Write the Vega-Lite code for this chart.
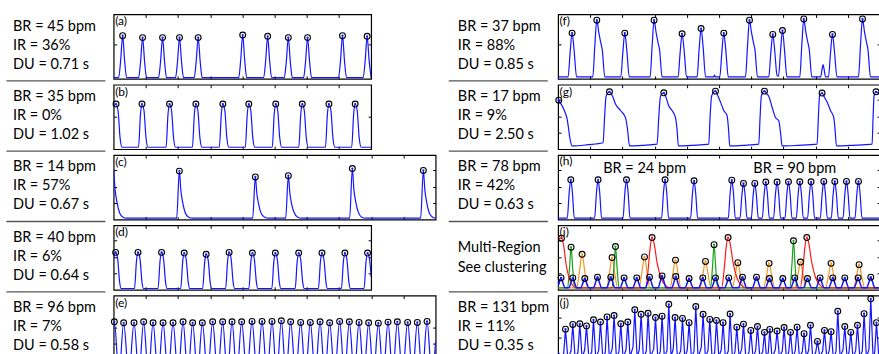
{
"$schema":"https://vega.github.io/schema/vega-lite/v6.json",
"padding":{"left":4.65,"top":12.4,"right":0,"bottom":0},
"background":"white",
"config":{
 "view":{"stroke":"black","strokeWidth":1.2},
 "axis":{"labels":false,"domain":false,"grid":false,"ticks":true,"tickSize":-3,"tickColor":"black","tickWidth":1},
 "text":{"font":"Lato","color":"black"},
 "line":{"color":"#1414ff","strokeWidth":1.2},
 "point":{"opacity":1}
},
"datasets":{
"lab":[
{"r":"a","n":0,"s":"BR = 45 bpm"},{"r":"a","n":1,"s":"IR = 36%"},{"r":"a","n":2,"s":"DU = 0.71 s"},
{"r":"b","n":0,"s":"BR = 35 bpm"},{"r":"b","n":1,"s":"IR = 0%"},{"r":"b","n":2,"s":"DU = 1.02 s"},
{"r":"c","n":0,"s":"BR = 14 bpm"},{"r":"c","n":1,"s":"IR = 57%"},{"r":"c","n":2,"s":"DU = 0.67 s"},
{"r":"d","n":0,"s":"BR = 40 bpm"},{"r":"d","n":1,"s":"IR = 6%"},{"r":"d","n":2,"s":"DU = 0.64 s"},
{"r":"e","n":0,"s":"BR = 96 bpm"},{"r":"e","n":1,"s":"IR = 7%"},{"r":"e","n":2,"s":"DU = 0.58 s"},
{"r":"f","n":0,"s":"BR = 37 bpm"},{"r":"f","n":1,"s":"IR = 88%"},{"r":"f","n":2,"s":"DU = 0.85 s"},
{"r":"g","n":0,"s":"BR = 17 bpm"},{"r":"g","n":1,"s":"IR = 9%"},{"r":"g","n":2,"s":"DU = 2.50 s"},
{"r":"h","n":0,"s":"BR = 78 bpm"},{"r":"h","n":1,"s":"IR = 42%"},{"r":"h","n":2,"s":"DU = 0.63 s"},
{"r":"i","n":0,"s":"Multi-Region"},{"r":"i","n":1,"s":"See clustering"},
{"r":"j","n":0,"s":"BR = 131 bpm"},{"r":"j","n":1,"s":"IR = 11%"},{"r":"j","n":2,"s":"DU = 0.35 s"}
],
"ann":[{"t":86.5,"v":0.78,"s":"BR = 24 bpm"},{"t":236.7,"v":0.78,"s":"BR = 90 bpm"}],
"a":[
{"t":0,"v":0.02},
{"t":5,"v":0.02},{"t":7,"v":0.28},{"t":9,"v":0.67,"k":1},{"t":11,"v":0.28},{"t":13,"v":0.02},
{"t":25,"v":0.02},{"t":27,"v":0.27},{"t":29,"v":0.64,"k":1},{"t":31,"v":0.27},{"t":33,"v":0.02},
{"t":45,"v":0.02},{"t":47,"v":0.27},{"t":49,"v":0.64,"k":1},{"t":51,"v":0.27},{"t":53,"v":0.02},
{"t":62,"v":0.02},{"t":64,"v":0.27},{"t":66,"v":0.64,"k":1},{"t":68,"v":0.27},{"t":70,"v":0.02},
{"t":80.7,"v":0.02},{"t":82.7,"v":0.27},{"t":84.7,"v":0.64,"k":1},{"t":86.7,"v":0.27},{"t":88.7,"v":0.02},
{"t":125.3,"v":0.02},{"t":127.3,"v":0.29},{"t":129.3,"v":0.68,"k":1},{"t":131.3,"v":0.29},{"t":133.3,"v":0.02},
{"t":150.3,"v":0.02},{"t":152.3,"v":0.28},{"t":154.3,"v":0.66,"k":1},{"t":156.3,"v":0.28},{"t":158.3,"v":0.02},
{"t":171,"v":0.02},{"t":173,"v":0.27},{"t":175,"v":0.64,"k":1},{"t":177,"v":0.27},{"t":179,"v":0.02},
{"t":190.3,"v":0.02},{"t":192.3,"v":0.27},{"t":194.3,"v":0.64,"k":1},{"t":196.3,"v":0.27},{"t":198.3,"v":0.02},
{"t":225.3,"v":0.02},{"t":227.3,"v":0.28},{"t":229.3,"v":0.67,"k":1},{"t":231.3,"v":0.28},{"t":233.3,"v":0.02},
{"t":250,"v":0.02},{"t":252,"v":0.28},{"t":254,"v":0.66,"k":1},{"t":256,"v":0.28},{"t":258,"v":0.02}
],
"b":[
{"t":0,"v":0.66},{"t":2.4,"v":0.70,"k":1},{"t":4.4,"v":0.6},{"t":6.4,"v":0.18},{"t":8.4,"v":0.03},
{"t":24.9,"v":0.03},{"t":26.9,"v":0.55},{"t":28.4,"v":0.70,"k":1},{"t":30.4,"v":0.6},{"t":32.4,"v":0.18},{"t":34.4,"v":0.03},
{"t":52.5,"v":0.03},{"t":54.5,"v":0.55},{"t":56,"v":0.70,"k":1},{"t":58,"v":0.6},{"t":60,"v":0.18},{"t":62,"v":0.03},
{"t":78.9,"v":0.03},{"t":80.9,"v":0.55},{"t":82.4,"v":0.70,"k":1},{"t":84.4,"v":0.6},{"t":86.4,"v":0.18},{"t":88.4,"v":0.03},
{"t":105.9,"v":0.03},{"t":107.9,"v":0.55},{"t":109.4,"v":0.70,"k":1},{"t":111.4,"v":0.6},{"t":113.4,"v":0.18},{"t":115.4,"v":0.03},
{"t":131.9,"v":0.03},{"t":133.9,"v":0.55},{"t":135.4,"v":0.70,"k":1},{"t":137.4,"v":0.6},{"t":139.4,"v":0.18},{"t":141.4,"v":0.03},
{"t":158.9,"v":0.03},{"t":160.9,"v":0.55},{"t":162.4,"v":0.70,"k":1},{"t":164.4,"v":0.6},{"t":166.4,"v":0.18},{"t":168.4,"v":0.03},
{"t":185.5,"v":0.03},{"t":187.5,"v":0.55},{"t":189,"v":0.70,"k":1},{"t":191,"v":0.6},{"t":193,"v":0.18},{"t":195,"v":0.03},
{"t":212.2,"v":0.03},{"t":214.2,"v":0.55},{"t":215.7,"v":0.70,"k":1},{"t":217.7,"v":0.6},{"t":219.7,"v":0.18},{"t":221.7,"v":0.03},
{"t":238.5,"v":0.03},{"t":240.5,"v":0.55},{"t":242,"v":0.70,"k":1},{"t":244,"v":0.6},{"t":246,"v":0.18},{"t":248,"v":0.03},
{"t":258,"v":0.03}
],
"c":[
{"t":0,"v":0.76},{"t":1.5,"v":0.46},{"t":3.3,"v":0.27},{"t":6,"v":0.1},{"t":9,"v":0.04},{"t":13,"v":0.02},
{"t":63,"v":0.02},{"t":65.7,"v":0.75,"k":1},{"t":67.2,"v":0.45},{"t":69,"v":0.27},{"t":71.7,"v":0.1},{"t":74.7,"v":0.04},{"t":78.7,"v":0.02},
{"t":139,"v":0.02},{"t":141.7,"v":0.66,"k":1},{"t":143.2,"v":0.40},{"t":145,"v":0.24},{"t":147.7,"v":0.09},{"t":150.7,"v":0.04},{"t":154.7,"v":0.02},
{"t":172,"v":0.02},{"t":174.7,"v":0.68,"k":1},{"t":176.2,"v":0.41},{"t":178,"v":0.24},{"t":180.7,"v":0.1},{"t":183.7,"v":0.04},{"t":187.7,"v":0.02},
{"t":236,"v":0.02},{"t":238.7,"v":0.79,"k":1},{"t":240.2,"v":0.47},{"t":242,"v":0.28},{"t":244.7,"v":0.11},{"t":247.7,"v":0.04},{"t":251.7,"v":0.02},
{"t":307,"v":0.02},{"t":309.7,"v":0.76,"k":1},{"t":311.2,"v":0.46},{"t":313,"v":0.27},{"t":315.7,"v":0.1},{"t":318.7,"v":0.04},{"t":322,"v":0.02}
],
"d":[
{"t":0,"v":0.5},{"t":2,"v":0.58,"k":1},{"t":4,"v":0.48},{"t":6,"v":0.12},{"t":7.5,"v":0.02},
{"t":20.9,"v":0.02},{"t":22.9,"v":0.45},{"t":24.4,"v":0.58,"k":1},{"t":26.4,"v":0.48},{"t":28.4,"v":0.12},{"t":29.9,"v":0.02},
{"t":44.5,"v":0.02},{"t":46.5,"v":0.45},{"t":48,"v":0.58,"k":1},{"t":50,"v":0.48},{"t":52,"v":0.12},{"t":53.5,"v":0.02},
{"t":67.2,"v":0.02},{"t":69.2,"v":0.44},{"t":70.7,"v":0.57,"k":1},{"t":72.7,"v":0.47},{"t":74.7,"v":0.12},{"t":76.2,"v":0.02},
{"t":89.2,"v":0.02},{"t":91.2,"v":0.43},{"t":92.7,"v":0.55,"k":1},{"t":94.7,"v":0.46},{"t":96.7,"v":0.12},{"t":98.2,"v":0.02},
{"t":112.2,"v":0.02},{"t":114.2,"v":0.45},{"t":115.7,"v":0.58,"k":1},{"t":117.7,"v":0.48},{"t":119.7,"v":0.12},{"t":121.2,"v":0.02},
{"t":135.5,"v":0.02},{"t":137.5,"v":0.44},{"t":139,"v":0.57,"k":1},{"t":141,"v":0.47},{"t":143,"v":0.12},{"t":144.5,"v":0.02},
{"t":158.5,"v":0.02},{"t":160.5,"v":0.44},{"t":162,"v":0.57,"k":1},{"t":164,"v":0.47},{"t":166,"v":0.12},{"t":167.5,"v":0.02},
{"t":181.9,"v":0.02},{"t":183.9,"v":0.44},{"t":185.4,"v":0.57,"k":1},{"t":187.4,"v":0.47},{"t":189.4,"v":0.12},{"t":190.9,"v":0.02},
{"t":205.2,"v":0.02},{"t":207.2,"v":0.44},{"t":208.7,"v":0.57,"k":1},{"t":210.7,"v":0.47},{"t":212.7,"v":0.12},{"t":214.2,"v":0.02},
{"t":228.2,"v":0.02},{"t":230.2,"v":0.44},{"t":231.7,"v":0.57,"k":1},{"t":233.7,"v":0.47},{"t":235.7,"v":0.12},{"t":237.2,"v":0.02},
{"t":250.9,"v":0.02},{"t":252.9,"v":0.44},{"t":254.4,"v":0.57,"k":1},{"t":256.4,"v":0.47},{"t":258,"v":0.2}
],
"e":[
{"t":0,"v":0.58},{"t":0.7,"v":0.594,"k":1},{"t":5.35,"v":-0.25},{"t":10,"v":0.579,"k":1},{"t":15.2,"v":-0.25},{"t":20.4,"v":0.579,"k":1},{"t":25.2,"v":-0.25},
{"t":30,"v":0.594,"k":1},{"t":34.7,"v":-0.25},{"t":39.4,"v":0.579,"k":1},{"t":44.4,"v":-0.25},{"t":49.4,"v":0.579,"k":1},{"t":54.4,"v":-0.25},
{"t":59.4,"v":0.579,"k":1},{"t":64.4,"v":-0.25},{"t":69.4,"v":0.594,"k":1},{"t":74.2,"v":-0.25},{"t":79,"v":0.579,"k":1},{"t":83.85,"v":-0.25},
{"t":88.7,"v":0.579,"k":1},{"t":93.85,"v":-0.25},{"t":99,"v":0.594,"k":1},{"t":104,"v":-0.25},{"t":109,"v":0.594,"k":1},{"t":113.7,"v":-0.25},
{"t":118.4,"v":0.594,"k":1},{"t":123.2,"v":-0.25},{"t":128,"v":0.594,"k":1},{"t":133.2,"v":-0.25},{"t":138.4,"v":0.60,"k":1},{"t":143.4,"v":-0.25},
{"t":148.4,"v":0.60,"k":1},{"t":153.4,"v":-0.25},{"t":158.4,"v":0.60,"k":1},{"t":163,"v":-0.25},{"t":167.7,"v":0.61,"k":1},{"t":172.35,"v":-0.25},
{"t":177,"v":0.594,"k":1},{"t":182,"v":-0.25},{"t":187,"v":0.584,"k":1},{"t":191.85,"v":-0.25},{"t":196.7,"v":0.584,"k":1},{"t":201.55,"v":-0.25},
{"t":206.4,"v":0.594,"k":1},{"t":211.2,"v":-0.25},{"t":216,"v":0.579,"k":1},{"t":221,"v":-0.25},{"t":226,"v":0.60,"k":1},{"t":230.85,"v":-0.25},
{"t":235.7,"v":0.594,"k":1},{"t":240.55,"v":-0.25},{"t":245.4,"v":0.584,"k":1},{"t":250.2,"v":-0.25},{"t":255,"v":0.579,"k":1},{"t":259.85,"v":-0.25},
{"t":264.7,"v":0.573,"k":1},{"t":269.55,"v":-0.25},{"t":274.4,"v":0.589,"k":1},{"t":279.05,"v":-0.25},{"t":283.7,"v":0.594,"k":1},{"t":288.85,"v":-0.25},
{"t":294,"v":0.584,"k":1},{"t":298.85,"v":-0.25},{"t":303.7,"v":0.584,"k":1},{"t":308.55,"v":-0.25},{"t":313.4,"v":0.60,"k":1},{"t":318.2,"v":-0.25},
{"t":322,"v":0.3}
],
"f":[
{"t":0,"v":0.03},
{"t":10,"v":0.03},{"t":12,"v":0.4},{"t":14,"v":0.71,"k":1},{"t":16,"v":0.45},{"t":18.5,"v":0.03},
{"t":34.7,"v":0.03},{"t":36.7,"v":0.5},{"t":38.7,"v":0.91,"k":1},{"t":40.7,"v":0.72},{"t":42.7,"v":0.56},{"t":44.2,"v":0.45},{"t":46.7,"v":0.03},
{"t":62.7,"v":0.03},{"t":64.7,"v":0.4},{"t":66.7,"v":0.71,"k":1},{"t":68.7,"v":0.45},{"t":71.2,"v":0.03},
{"t":92,"v":0.03},{"t":94,"v":0.5},{"t":96,"v":0.91,"k":1},{"t":98,"v":0.72},{"t":100,"v":0.56},{"t":101.5,"v":0.45},{"t":104,"v":0.03},
{"t":120,"v":0.03},{"t":122,"v":0.4},{"t":124,"v":0.70,"k":1},{"t":126,"v":0.45},{"t":128.5,"v":0.03},
{"t":139,"v":0.03},{"t":141,"v":0.45},{"t":143,"v":0.78,"k":1},{"t":145,"v":0.5},{"t":147.5,"v":0.03},
{"t":155.5,"v":0.03},{"t":156.4,"v":0.06},{"t":157.3,"v":0.03},
{"t":161.7,"v":0.03},{"t":163.7,"v":0.4},{"t":165.7,"v":0.71,"k":1},{"t":167.7,"v":0.45},{"t":170.2,"v":0.03},
{"t":187.4,"v":0.03},{"t":189.4,"v":0.5},{"t":191.4,"v":0.91,"k":1},{"t":193.4,"v":0.72},{"t":195.4,"v":0.56},{"t":196.9,"v":0.45},{"t":199.4,"v":0.03},
{"t":210.7,"v":0.03},{"t":212.7,"v":0.4},{"t":214.7,"v":0.69,"k":1},{"t":216.7,"v":0.42},{"t":219,"v":0.05},{"t":220.4,"v":0.04},{"t":222.4,"v":0.42},{"t":224.4,"v":0.75,"k":1},{"t":226.4,"v":0.45},{"t":228.9,"v":0.03},
{"t":241.7,"v":0.03},{"t":243.7,"v":0.52},{"t":245.7,"v":0.93,"k":1},{"t":247.7,"v":0.73},{"t":249.7,"v":0.57},{"t":251.2,"v":0.45},{"t":253.7,"v":0.03},
{"t":262.5,"v":0.03},{"t":264,"v":0.15},{"t":265,"v":0.22},{"t":266,"v":0.15},{"t":267.5,"v":0.03},
{"t":270.4,"v":0.03},{"t":272.4,"v":0.4},{"t":274.4,"v":0.69,"k":1},{"t":276.4,"v":0.42},{"t":278.9,"v":0.03},
{"t":300.4,"v":0.03},{"t":302.4,"v":0.52},{"t":304.4,"v":0.93,"k":1},{"t":306.4,"v":0.73},{"t":308.4,"v":0.57},{"t":309.9,"v":0.45},{"t":312.4,"v":0.03},
{"t":322,"v":0.03}
],
"g":[
{"t":0,"v":0.78},{"t":0.7,"v":0.76,"k":1},{"t":5.7,"v":0.62},{"t":9,"v":0.47},{"t":12.3,"v":0.13},{"t":14,"v":0.05},
{"t":30,"v":0.07},{"t":45,"v":0.10},{"t":46.5,"v":0.5},{"t":48,"v":0.82},{"t":51.4,"v":0.89,"k":1},{"t":54.5,"v":0.82},{"t":57.4,"v":0.70},{"t":62.4,"v":0.60},{"t":67.4,"v":0.49},{"t":69.5,"v":0.3},{"t":71.4,"v":0.05},
{"t":85,"v":0.06},{"t":99,"v":0.08},{"t":100.7,"v":0.5},{"t":102.4,"v":0.82},{"t":105.7,"v":0.875,"k":1},{"t":108,"v":0.8},{"t":110.7,"v":0.67},{"t":114,"v":0.60},{"t":117.4,"v":0.49},{"t":119,"v":0.3},{"t":120.3,"v":0.05},
{"t":135,"v":0.06},{"t":150.7,"v":0.08},{"t":152,"v":0.5},{"t":153.6,"v":0.83},{"t":157.4,"v":0.90,"k":1},{"t":160,"v":0.82},{"t":162.4,"v":0.73},{"t":165.7,"v":0.6},{"t":169,"v":0.52},{"t":170.5,"v":0.3},{"t":171.7,"v":0.05},
{"t":186,"v":0.06},{"t":200.7,"v":0.08},{"t":202,"v":0.5},{"t":203.3,"v":0.83},{"t":206.4,"v":0.90,"k":1},{"t":208.5,"v":0.86},{"t":210.7,"v":0.82},{"t":214,"v":0.65},{"t":217.4,"v":0.49},{"t":220.7,"v":0.44},{"t":222.5,"v":0.25},{"t":224,"v":0.05},
{"t":240,"v":0.06},{"t":259,"v":0.08},{"t":260.3,"v":0.5},{"t":261.5,"v":0.83},{"t":264,"v":0.87,"k":1},{"t":266.5,"v":0.8},{"t":269,"v":0.73},{"t":272.4,"v":0.6},{"t":275.7,"v":0.49},{"t":277,"v":0.3},{"t":278.4,"v":0.05},
{"t":295,"v":0.06},{"t":314,"v":0.08},{"t":315,"v":0.5},{"t":316,"v":0.83},{"t":318,"v":0.89,"k":1},{"t":320,"v":0.87},{"t":322,"v":0.85}
],
"h":[
{"t":0,"v":0.02},
{"t":9.2,"v":0.02},{"t":11,"v":0.4},{"t":12.7,"v":0.615,"k":1},{"t":14.4,"v":0.4},{"t":16.2,"v":0.02},
{"t":36.5,"v":0.02},{"t":38.3,"v":0.4},{"t":40,"v":0.615,"k":1},{"t":41.7,"v":0.4},{"t":43.5,"v":0.02},
{"t":64.9,"v":0.02},{"t":66.7,"v":0.4},{"t":68.4,"v":0.615,"k":1},{"t":70.1,"v":0.4},{"t":71.9,"v":0.02},
{"t":103.5,"v":0.02},{"t":105.3,"v":0.4},{"t":107,"v":0.615,"k":1},{"t":108.7,"v":0.4},{"t":110.5,"v":0.02},
{"t":132.5,"v":0.02},{"t":134.3,"v":0.39},{"t":136,"v":0.60,"k":1},{"t":137.7,"v":0.39},{"t":139.5,"v":0.02},
{"t":170.2,"v":0.02},{"t":172,"v":0.4},{"t":173.7,"v":0.61,"k":1},{"t":175.4,"v":0.4},{"t":177.2,"v":0.02},
{"t":181.9,"v":0.02},{"t":183.7,"v":0.36},{"t":185.4,"v":0.56,"k":1},{"t":187.1,"v":0.36},{"t":188.9,"v":0.02},
{"t":193.2,"v":0.02},{"t":195,"v":0.36},{"t":196.7,"v":0.56,"k":1},{"t":198.4,"v":0.36},{"t":200.2,"v":0.02},
{"t":204.2,"v":0.02},{"t":206,"v":0.38},{"t":207.7,"v":0.58,"k":1},{"t":209.4,"v":0.38},{"t":211.2,"v":0.02},
{"t":215.5,"v":0.02},{"t":217.3,"v":0.38},{"t":219,"v":0.58,"k":1},{"t":220.7,"v":0.38},{"t":222.5,"v":0.02},
{"t":226.9,"v":0.02},{"t":228.7,"v":0.38},{"t":230.4,"v":0.585,"k":1},{"t":232.1,"v":0.38},{"t":233.9,"v":0.02},
{"t":238.2,"v":0.02},{"t":240,"v":0.38},{"t":241.7,"v":0.585,"k":1},{"t":243.4,"v":0.38},{"t":245.2,"v":0.02},
{"t":249.5,"v":0.02},{"t":251.3,"v":0.38},{"t":253,"v":0.585,"k":1},{"t":254.7,"v":0.38},{"t":256.5,"v":0.02},
{"t":262.2,"v":0.02},{"t":264,"v":0.38},{"t":265.7,"v":0.59,"k":1},{"t":267.4,"v":0.38},{"t":269.2,"v":0.02},
{"t":273.2,"v":0.02},{"t":275,"v":0.38},{"t":276.7,"v":0.59,"k":1},{"t":278.4,"v":0.38},{"t":280.2,"v":0.02},
{"t":284.9,"v":0.02},{"t":286.7,"v":0.38},{"t":288.4,"v":0.59,"k":1},{"t":290.1,"v":0.38},{"t":291.9,"v":0.02},
{"t":296.9,"v":0.02},{"t":298.7,"v":0.38},{"t":300.4,"v":0.59,"k":1},{"t":302.1,"v":0.38},{"t":303.9,"v":0.02},
{"t":322,"v":0.02}
],
"i":[
{"c":"o","t":0,"v":0.03},
{"c":"o","t":18.5,"v":0.03},{"c":"o","t":21.3,"v":0.28},{"c":"o","t":24,"v":0.55,"k":1},{"c":"o","t":26.7,"v":0.28},{"c":"o","t":29.5,"v":0.03},
{"c":"o","t":48.5,"v":0.03},{"c":"o","t":51.3,"v":0.25},{"c":"o","t":54,"v":0.50,"k":1},{"c":"o","t":56.7,"v":0.25},{"c":"o","t":59.5,"v":0.03},
{"c":"o","t":80.9,"v":0.03},{"c":"o","t":83.7,"v":0.26},{"c":"o","t":86.4,"v":0.51,"k":1},{"c":"o","t":89.1,"v":0.26},{"c":"o","t":91.9,"v":0.03},
{"c":"o","t":111.9,"v":0.03},{"c":"o","t":114.7,"v":0.24},{"c":"o","t":117.4,"v":0.46,"k":1},{"c":"o","t":120.1,"v":0.24},{"c":"o","t":122.9,"v":0.03},
{"c":"o","t":141.9,"v":0.03},{"c":"o","t":144.7,"v":0.23},{"c":"o","t":147.4,"v":0.44,"k":1},{"c":"o","t":150.1,"v":0.23},{"c":"o","t":152.9,"v":0.03},
{"c":"o","t":174.2,"v":0.03},{"c":"o","t":177,"v":0.22},{"c":"o","t":179.7,"v":0.42,"k":1},{"c":"o","t":182.4,"v":0.22},{"c":"o","t":185.2,"v":0.03},
{"c":"o","t":205.5,"v":0.03},{"c":"o","t":208.3,"v":0.21},{"c":"o","t":211,"v":0.41,"k":1},{"c":"o","t":213.7,"v":0.21},{"c":"o","t":216.5,"v":0.03},
{"c":"o","t":236.9,"v":0.03},{"c":"o","t":239.7,"v":0.22},{"c":"o","t":242.4,"v":0.43,"k":1},{"c":"o","t":245.1,"v":0.22},{"c":"o","t":247.9,"v":0.03},
{"c":"o","t":267.5,"v":0.03},{"c":"o","t":270.3,"v":0.21},{"c":"o","t":273,"v":0.41,"k":1},{"c":"o","t":275.7,"v":0.21},{"c":"o","t":278.5,"v":0.03},
{"c":"o","t":295.5,"v":0.03},{"c":"o","t":298.3,"v":0.2},{"c":"o","t":301,"v":0.39,"k":1},{"c":"o","t":303.7,"v":0.2},{"c":"o","t":306.5,"v":0.03},
{"c":"o","t":322,"v":0.03},
{"c":"g","t":0,"v":0.03},
{"c":"g","t":9.5,"v":0.03},{"c":"g","t":11.4,"v":0.33},{"c":"g","t":13,"v":0.66,"k":1},{"c":"g","t":14.6,"v":0.33},{"c":"g","t":16.5,"v":0.03},
{"c":"g","t":53.9,"v":0.03},{"c":"g","t":55.8,"v":0.34},{"c":"g","t":57.4,"v":0.67,"k":1},{"c":"g","t":59,"v":0.34},{"c":"g","t":60.9,"v":0.03},
{"c":"g","t":152.5,"v":0.03},{"c":"g","t":154.4,"v":0.35},{"c":"g","t":156,"v":0.70,"k":1},{"c":"g","t":157.6,"v":0.35},{"c":"g","t":159.5,"v":0.03},
{"c":"g","t":231.9,"v":0.03},{"c":"g","t":233.8,"v":0.38},{"c":"g","t":235.4,"v":0.76,"k":1},{"c":"g","t":237,"v":0.38},{"c":"g","t":238.9,"v":0.03},
{"c":"g","t":322,"v":0.03},
{"c":"r","t":0,"v":0.78},{"c":"r","t":3.4,"v":0.80,"k":1},{"c":"r","t":5.4,"v":0.7},{"c":"r","t":8,"v":0.4},{"c":"r","t":11,"v":0.18},{"c":"r","t":15,"v":0.06},{"c":"r","t":19,"v":0.03},
{"c":"r","t":87.5,"v":0.03},{"c":"r","t":90,"v":0.3},{"c":"r","t":92,"v":0.65},{"c":"r","t":94,"v":0.81,"k":1},{"c":"r","t":96,"v":0.72},{"c":"r","t":99,"v":0.42},{"c":"r","t":103,"v":0.18},{"c":"r","t":108,"v":0.06},{"c":"r","t":112,"v":0.03},
{"c":"r","t":163.5,"v":0.03},{"c":"r","t":166,"v":0.3},{"c":"r","t":168,"v":0.65},{"c":"r","t":170,"v":0.81,"k":1},{"c":"r","t":172,"v":0.72},{"c":"r","t":175,"v":0.42},{"c":"r","t":179,"v":0.18},{"c":"r","t":184,"v":0.06},{"c":"r","t":188,"v":0.03},
{"c":"r","t":242.2,"v":0.03},{"c":"r","t":244.7,"v":0.3},{"c":"r","t":246.7,"v":0.65},{"c":"r","t":248.7,"v":0.81,"k":1},{"c":"r","t":250.7,"v":0.72},{"c":"r","t":253.7,"v":0.42},{"c":"r","t":257.7,"v":0.18},{"c":"r","t":262.7,"v":0.06},{"c":"r","t":266.7,"v":0.03},
{"c":"r","t":322,"v":0.03},
{"c":"b","t":0,"v":0.05},{"c":"b","t":1,"v":0.1},{"c":"b","t":3,"v":0.185,"k":1},{"c":"b","t":5,"v":0.1},{"c":"b","t":7,"v":0.03},
{"c":"b","t":10.7,"v":0.03},{"c":"b","t":12.7,"v":0.1},{"c":"b","t":14.7,"v":0.185,"k":1},{"c":"b","t":16.7,"v":0.1},{"c":"b","t":18.7,"v":0.03},
{"c":"b","t":22.7,"v":0.03},{"c":"b","t":24.7,"v":0.1},{"c":"b","t":26.7,"v":0.175,"k":1},{"c":"b","t":28.7,"v":0.1},{"c":"b","t":30.7,"v":0.03},
{"c":"b","t":35.4,"v":0.03},{"c":"b","t":37.4,"v":0.11},{"c":"b","t":39.4,"v":0.195,"k":1},{"c":"b","t":41.4,"v":0.11},{"c":"b","t":43.4,"v":0.03},
{"c":"b","t":48.7,"v":0.03},{"c":"b","t":50.7,"v":0.11},{"c":"b","t":52.7,"v":0.195,"k":1},{"c":"b","t":54.7,"v":0.11},{"c":"b","t":56.7,"v":0.03},
{"c":"b","t":62,"v":0.03},{"c":"b","t":64,"v":0.1},{"c":"b","t":66,"v":0.185,"k":1},{"c":"b","t":68,"v":0.1},{"c":"b","t":70,"v":0.03},
{"c":"b","t":74.7,"v":0.03},{"c":"b","t":76.7,"v":0.1},{"c":"b","t":78.7,"v":0.185,"k":1},{"c":"b","t":80.7,"v":0.1},{"c":"b","t":82.7,"v":0.03},
{"c":"b","t":87.4,"v":0.03},{"c":"b","t":89.4,"v":0.11},{"c":"b","t":91.4,"v":0.195,"k":1},{"c":"b","t":93.4,"v":0.11},{"c":"b","t":95.4,"v":0.03},
{"c":"b","t":100,"v":0.03},{"c":"b","t":102,"v":0.12},{"c":"b","t":104,"v":0.215,"k":1},{"c":"b","t":106,"v":0.12},{"c":"b","t":108,"v":0.03},
{"c":"b","t":113.7,"v":0.03},{"c":"b","t":115.7,"v":0.11},{"c":"b","t":117.7,"v":0.205,"k":1},{"c":"b","t":119.7,"v":0.11},{"c":"b","t":121.7,"v":0.03},
{"c":"b","t":127,"v":0.03},{"c":"b","t":129,"v":0.1},{"c":"b","t":131,"v":0.175,"k":1},{"c":"b","t":133,"v":0.1},{"c":"b","t":135,"v":0.03},
{"c":"b","t":140.7,"v":0.03},{"c":"b","t":142.7,"v":0.1},{"c":"b","t":144.7,"v":0.185,"k":1},{"c":"b","t":146.7,"v":0.1},{"c":"b","t":148.7,"v":0.03},
{"c":"b","t":153.4,"v":0.03},{"c":"b","t":155.4,"v":0.1},{"c":"b","t":157.4,"v":0.185,"k":1},{"c":"b","t":159.4,"v":0.1},{"c":"b","t":161.4,"v":0.03},
{"c":"b","t":166.7,"v":0.03},{"c":"b","t":168.7,"v":0.1},{"c":"b","t":170.7,"v":0.185,"k":1},{"c":"b","t":172.7,"v":0.1},{"c":"b","t":174.7,"v":0.03},
{"c":"b","t":180.4,"v":0.03},{"c":"b","t":182.4,"v":0.11},{"c":"b","t":184.4,"v":0.195,"k":1},{"c":"b","t":186.4,"v":0.11},{"c":"b","t":188.4,"v":0.03},
{"c":"b","t":194.4,"v":0.03},{"c":"b","t":196.4,"v":0.11},{"c":"b","t":198.4,"v":0.195,"k":1},{"c":"b","t":200.4,"v":0.11},{"c":"b","t":202.4,"v":0.03},
{"c":"b","t":207.4,"v":0.03},{"c":"b","t":209.4,"v":0.1},{"c":"b","t":211.4,"v":0.175,"k":1},{"c":"b","t":213.4,"v":0.1},{"c":"b","t":215.4,"v":0.03},
{"c":"b","t":220.7,"v":0.03},{"c":"b","t":222.7,"v":0.1},{"c":"b","t":224.7,"v":0.175,"k":1},{"c":"b","t":226.7,"v":0.1},{"c":"b","t":228.7,"v":0.03},
{"c":"b","t":232.7,"v":0.03},{"c":"b","t":234.7,"v":0.1},{"c":"b","t":236.7,"v":0.185,"k":1},{"c":"b","t":238.7,"v":0.1},{"c":"b","t":240.7,"v":0.03},
{"c":"b","t":245.4,"v":0.03},{"c":"b","t":247.4,"v":0.1},{"c":"b","t":249.4,"v":0.175,"k":1},{"c":"b","t":251.4,"v":0.1},{"c":"b","t":253.4,"v":0.03},
{"c":"b","t":258,"v":0.03},{"c":"b","t":260,"v":0.1},{"c":"b","t":262,"v":0.185,"k":1},{"c":"b","t":264,"v":0.1},{"c":"b","t":266,"v":0.03},
{"c":"b","t":270.7,"v":0.03},{"c":"b","t":272.7,"v":0.1},{"c":"b","t":274.7,"v":0.185,"k":1},{"c":"b","t":276.7,"v":0.1},{"c":"b","t":278.7,"v":0.03},
{"c":"b","t":282.7,"v":0.03},{"c":"b","t":284.7,"v":0.1},{"c":"b","t":286.7,"v":0.185,"k":1},{"c":"b","t":288.7,"v":0.1},{"c":"b","t":290.7,"v":0.03},
{"c":"b","t":296,"v":0.03},{"c":"b","t":298,"v":0.1},{"c":"b","t":300,"v":0.185,"k":1},{"c":"b","t":302,"v":0.1},{"c":"b","t":304,"v":0.03},
{"c":"b","t":308.7,"v":0.03},{"c":"b","t":310.7,"v":0.11},{"c":"b","t":312.7,"v":0.195,"k":1},{"c":"b","t":314.7,"v":0.11},{"c":"b","t":316.7,"v":0.03},
{"c":"b","t":322,"v":0.03}
],
"j":[
{"t":0,"v":0.12},{"t":3,"v":0.06},
{"t":5.6,"v":0.1},{"t":7.4,"v":0.48,"k":1},{"t":9.7,"v":0.03},
{"t":12.9,"v":0.14},{"t":14.7,"v":0.553,"k":1},{"t":17,"v":0.04},
{"t":19.9,"v":0.12},{"t":21.7,"v":0.5625,"k":1},{"t":24,"v":0.03},
{"t":26.6,"v":0.16},{"t":28.4,"v":0.53,"k":1},{"t":30.7,"v":0.05},
{"t":33.6,"v":0.12},{"t":35.4,"v":0.625,"k":1},{"t":37.7,"v":0.03},
{"t":40.6,"v":0.15},{"t":42.4,"v":0.59,"k":1},{"t":44.7,"v":0.04},
{"t":47.2,"v":0.12},{"t":49,"v":0.67,"k":1},{"t":51.3,"v":0.03},
{"t":54.2,"v":0.18},{"t":56,"v":0.69,"k":1},{"t":58.3,"v":0.04},
{"t":60.9,"v":0.13},{"t":62.7,"v":0.5625,"k":1},{"t":65,"v":0.03},
{"t":67.9,"v":0.16},{"t":69.7,"v":0.59,"k":1},{"t":72,"v":0.05},
{"t":74.9,"v":0.2},{"t":76.7,"v":0.78,"k":1},{"t":79,"v":0.04},
{"t":81.2,"v":0.16},{"t":83,"v":0.71,"k":1},{"t":85.3,"v":0.03},
{"t":88.2,"v":0.14},{"t":90,"v":0.725,"k":1},{"t":92.3,"v":0.05},
{"t":95.6,"v":0.17},{"t":97.4,"v":0.66,"k":1},{"t":99.7,"v":0.04},
{"t":102.2,"v":0.13},{"t":104,"v":0.68,"k":1},{"t":106.3,"v":0.03},
{"t":108.9,"v":0.15},{"t":110.7,"v":0.865,"k":1},{"t":113,"v":0.05},
{"t":115.2,"v":0.18},{"t":117,"v":0.66,"k":1},{"t":119.3,"v":0.04},
{"t":122.6,"v":0.14},{"t":124.4,"v":0.645,"k":1},{"t":126.7,"v":0.03},
{"t":129.2,"v":0.16},{"t":131,"v":0.58,"k":1},{"t":133.3,"v":0.05},
{"t":135.9,"v":0.13},{"t":137.7,"v":0.83,"k":1},{"t":140,"v":0.03},
{"t":143.2,"v":0.2},{"t":145,"v":0.71,"k":1},{"t":147.3,"v":0.04},
{"t":149.9,"v":0.15},{"t":151.7,"v":0.63,"k":1},{"t":154,"v":0.03},
{"t":156.6,"v":0.12},{"t":158.4,"v":0.615,"k":1},{"t":160.7,"v":0.05},
{"t":163.2,"v":0.16},{"t":165,"v":0.58,"k":1},{"t":167.3,"v":0.04},
{"t":170.2,"v":0.14},{"t":172,"v":0.714,"k":1},{"t":174.3,"v":0.03},
{"t":176.9,"v":0.13},{"t":178.7,"v":0.51,"k":1},{"t":181,"v":0.05},
{"t":183.6,"v":0.17},{"t":185.4,"v":0.558,"k":1},{"t":187.7,"v":0.04},
{"t":190.9,"v":0.12},{"t":192.7,"v":0.46,"k":1},{"t":195,"v":0.03},
{"t":197.6,"v":0.15},{"t":199.4,"v":0.52,"k":1},{"t":201.7,"v":0.05},
{"t":204.6,"v":0.13},{"t":206.4,"v":0.43,"k":1},{"t":208.4,"v":0.04},
{"t":210.2,"v":0.12},{"t":211.7,"v":0.475,"k":1},{"t":214,"v":0.03},
{"t":217.2,"v":0.16},{"t":219,"v":0.45,"k":1},{"t":221.3,"v":0.05},
{"t":224.2,"v":0.14},{"t":226,"v":0.505,"k":1},{"t":228.3,"v":0.04},
{"t":230.6,"v":0.12},{"t":232.4,"v":0.43,"k":1},{"t":234.7,"v":0.03},
{"t":237.2,"v":0.15},{"t":239,"v":0.51,"k":1},{"t":241.3,"v":0.05},
{"t":244.2,"v":0.13},{"t":246,"v":0.41,"k":1},{"t":248.3,"v":0.04},
{"t":250.6,"v":0.16},{"t":252.4,"v":0.54,"k":1},{"t":254.7,"v":0.03},
{"t":257.6,"v":0.12},{"t":259.4,"v":0.29,"k":1},{"t":261.7,"v":0.05},
{"t":264.6,"v":0.14},{"t":266.4,"v":0.46,"k":1},{"t":268.7,"v":0.04},
{"t":271.2,"v":0.15},{"t":273,"v":0.44,"k":1},{"t":275.3,"v":0.03},
{"t":277.9,"v":0.13},{"t":279.7,"v":0.756,"k":1},{"t":282,"v":0.05},
{"t":284.9,"v":0.16},{"t":286.7,"v":0.52,"k":1},{"t":289,"v":0.04},
{"t":290.9,"v":0.12},{"t":292.7,"v":0.43,"k":1},{"t":295,"v":0.03},
{"t":297.6,"v":0.15},{"t":299.4,"v":0.54,"k":1},{"t":301.7,"v":0.05},
{"t":304.2,"v":0.14},{"t":306,"v":0.72,"k":1},{"t":308.3,"v":0.04},
{"t":310.9,"v":0.17},{"t":312.7,"v":0.95,"k":1},{"t":315,"v":0.03},
{"t":316.6,"v":0.12},{"t":318.4,"v":0.58,"k":1},{"t":320.7,"v":0.05},
{"t":322,"v":0.1}
]
},
"spacing":9.45,
"hconcat":[
{"spacing":5.3,"bounds":"flush","vconcat":[
 {"width":257.5,"height":64.5,"data":{"name":"a"},"layer":[
  {"mark":{"type":"line","interpolate":"monotone","clip":true},"encoding":{"x":{"field":"t","type":"quantitative","scale":{"domain":[0,258],"nice":false,"zero":false},"axis":{"orient":"bottom","title":null,"values":[32.25,64.5,96.75,129,161.25,193.5,225.75]}},"y":{"field":"v","type":"quantitative","scale":{"domain":[0,1],"nice":false,"zero":false},"axis":{"orient":"left","title":null,"values":[0.53]}}}},
  {"transform":[{"filter":"datum.k"}],"mark":{"type":"point","shape":"circle","filled":false,"color":"black","size":34,"strokeWidth":1.1},"encoding":{"x":{"field":"t","type":"quantitative","axis":{"orient":"top","title":null,"values":[32.25,64.5,96.75,129,161.25,193.5,225.75]}},"y":{"field":"v","type":"quantitative","scale":{"domain":[0,1],"nice":false,"zero":false},"axis":{"orient":"right","title":null,"values":[0.53]}}}},
  {"transform":[{"filter":"datum.k"}],"mark":{"type":"point","shape":"circle","filled":true,"color":"#1414ff","size":5},"encoding":{"x":{"field":"t","type":"quantitative","axis":null},"y":{"field":"v","type":"quantitative","scale":{"domain":[0,1],"nice":false,"zero":false},"axis":null}}},
  {"data":{"values":[{}]},"mark":{"type":"text","align":"left","baseline":"top","fontSize":12},"encoding":{"x":{"datum":1.5,"type":"quantitative","axis":null},"y":{"datum":0.97,"type":"quantitative","scale":{"domain":[0,1],"nice":false,"zero":false},"axis":null},"text":{"value":"(a)"}}},
  {"data":{"name":"lab"},"transform":[{"filter":"datum.r=='a'"}],"mark":{"type":"text","align":"left","baseline":"middle","fontSize":14.5},"encoding":{"x":{"datum":-100.85,"type":"quantitative","axis":null},"y":{"field":"n","type":"quantitative","scale":{"domain":[-0.658,2.737],"reverse":true,"nice":false,"zero":false},"axis":null},"text":{"field":"s"}}},
  {"data":{"values":[{}]},"mark":{"type":"rule","color":"#555","strokeWidth":1.3},"encoding":{"x":{"datum":-107.5,"type":"quantitative","axis":null},"x2":{"datum":-8.3},"y":{"datum":-0.031,"type":"quantitative","scale":{"domain":[0,1],"nice":false,"zero":false},"axis":null}}}
 ],"resolve":{"axis":{"x":"independent","y":"independent"},"scale":{"y":"independent"}}},
 {"width":257.5,"height":64.5,"data":{"name":"b"},"layer":[
  {"mark":{"type":"line","interpolate":"monotone","clip":true},"encoding":{"x":{"field":"t","type":"quantitative","scale":{"domain":[0,258],"nice":false,"zero":false},"axis":{"orient":"bottom","title":null,"values":[32.25,64.5,96.75,129,161.25,193.5,225.75]}},"y":{"field":"v","type":"quantitative","scale":{"domain":[0,1],"nice":false,"zero":false},"axis":{"orient":"left","title":null,"values":[0.51]}}}},
  {"transform":[{"filter":"datum.k"}],"mark":{"type":"point","shape":"circle","filled":false,"color":"black","size":34,"strokeWidth":1.1},"encoding":{"x":{"field":"t","type":"quantitative","axis":{"orient":"top","title":null,"values":[32.25,64.5,96.75,129,161.25,193.5,225.75]}},"y":{"field":"v","type":"quantitative","scale":{"domain":[0,1],"nice":false,"zero":false},"axis":{"orient":"right","title":null,"values":[0.51]}}}},
  {"transform":[{"filter":"datum.k"}],"mark":{"type":"point","shape":"circle","filled":true,"color":"#1414ff","size":5},"encoding":{"x":{"field":"t","type":"quantitative","axis":null},"y":{"field":"v","type":"quantitative","scale":{"domain":[0,1],"nice":false,"zero":false},"axis":null}}},
  {"data":{"values":[{}]},"mark":{"type":"text","align":"left","baseline":"top","fontSize":12},"encoding":{"x":{"datum":1.5,"type":"quantitative","axis":null},"y":{"datum":0.97,"type":"quantitative","scale":{"domain":[0,1],"nice":false,"zero":false},"axis":null},"text":{"value":"(b)"}}},
  {"data":{"name":"lab"},"transform":[{"filter":"datum.r=='b'"}],"mark":{"type":"text","align":"left","baseline":"middle","fontSize":14.5},"encoding":{"x":{"datum":-100.85,"type":"quantitative","axis":null},"y":{"field":"n","type":"quantitative","scale":{"domain":[-0.658,2.737],"reverse":true,"nice":false,"zero":false},"axis":null},"text":{"field":"s"}}},
  {"data":{"values":[{}]},"mark":{"type":"rule","color":"#555","strokeWidth":1.3},"encoding":{"x":{"datum":-107.5,"type":"quantitative","axis":null},"x2":{"datum":-8.3},"y":{"datum":-0.031,"type":"quantitative","scale":{"domain":[0,1],"nice":false,"zero":false},"axis":null}}}
 ],"resolve":{"axis":{"x":"independent","y":"independent"},"scale":{"y":"independent"}}},
 {"width":322,"height":64.5,"data":{"name":"c"},"layer":[
  {"mark":{"type":"line","interpolate":"monotone","clip":true},"encoding":{"x":{"field":"t","type":"quantitative","scale":{"domain":[0,322],"nice":false,"zero":false},"axis":{"orient":"bottom","title":null,"values":[32.2,64.4,96.6,128.8,161,193.2,225.4,257.6,289.8]}},"y":{"field":"v","type":"quantitative","scale":{"domain":[0,1],"nice":false,"zero":false},"axis":{"orient":"left","title":null,"values":[0.26,0.51,0.76]}}}},
  {"transform":[{"filter":"datum.k"}],"mark":{"type":"point","shape":"circle","filled":false,"color":"black","size":34,"strokeWidth":1.1},"encoding":{"x":{"field":"t","type":"quantitative","axis":{"orient":"top","title":null,"values":[32.2,64.4,96.6,128.8,161,193.2,225.4,257.6,289.8]}},"y":{"field":"v","type":"quantitative","scale":{"domain":[0,1],"nice":false,"zero":false},"axis":{"orient":"right","title":null,"values":[0.26,0.51,0.76]}}}},
  {"transform":[{"filter":"datum.k"}],"mark":{"type":"point","shape":"circle","filled":true,"color":"#1414ff","size":5},"encoding":{"x":{"field":"t","type":"quantitative","axis":null},"y":{"field":"v","type":"quantitative","scale":{"domain":[0,1],"nice":false,"zero":false},"axis":null}}},
  {"data":{"values":[{}]},"mark":{"type":"text","align":"left","baseline":"top","fontSize":12},"encoding":{"x":{"datum":1.5,"type":"quantitative","axis":null},"y":{"datum":0.97,"type":"quantitative","scale":{"domain":[0,1],"nice":false,"zero":false},"axis":null},"text":{"value":"(c)"}}},
  {"data":{"name":"lab"},"transform":[{"filter":"datum.r=='c'"}],"mark":{"type":"text","align":"left","baseline":"middle","fontSize":14.5},"encoding":{"x":{"datum":-100.65,"type":"quantitative","axis":null},"y":{"field":"n","type":"quantitative","scale":{"domain":[-0.658,2.737],"reverse":true,"nice":false,"zero":false},"axis":null},"text":{"field":"s"}}},
  {"data":{"values":[{}]},"mark":{"type":"rule","color":"#555","strokeWidth":1.3},"encoding":{"x":{"datum":-107.3,"type":"quantitative","axis":null},"x2":{"datum":-8.3},"y":{"datum":-0.031,"type":"quantitative","scale":{"domain":[0,1],"nice":false,"zero":false},"axis":null}}}
 ],"resolve":{"axis":{"x":"independent","y":"independent"},"scale":{"y":"independent"}}},
 {"width":257.5,"height":64.5,"data":{"name":"d"},"layer":[
  {"mark":{"type":"line","interpolate":"monotone","clip":true},"encoding":{"x":{"field":"t","type":"quantitative","scale":{"domain":[0,258],"nice":false,"zero":false},"axis":{"orient":"bottom","title":null,"values":[32.25,64.5,96.75,129,161.25,193.5,225.75]}},"y":{"field":"v","type":"quantitative","scale":{"domain":[0,1],"nice":false,"zero":false},"axis":{"orient":"left","title":null,"values":[0.26,0.51,0.76]}}}},
  {"transform":[{"filter":"datum.k"}],"mark":{"type":"point","shape":"circle","filled":false,"color":"black","size":34,"strokeWidth":1.1},"encoding":{"x":{"field":"t","type":"quantitative","axis":{"orient":"top","title":null,"values":[32.25,64.5,96.75,129,161.25,193.5,225.75]}},"y":{"field":"v","type":"quantitative","scale":{"domain":[0,1],"nice":false,"zero":false},"axis":{"orient":"right","title":null,"values":[0.26,0.51,0.76]}}}},
  {"transform":[{"filter":"datum.k"}],"mark":{"type":"point","shape":"circle","filled":true,"color":"#1414ff","size":5},"encoding":{"x":{"field":"t","type":"quantitative","axis":null},"y":{"field":"v","type":"quantitative","scale":{"domain":[0,1],"nice":false,"zero":false},"axis":null}}},
  {"data":{"values":[{}]},"mark":{"type":"text","align":"left","baseline":"top","fontSize":12},"encoding":{"x":{"datum":1.5,"type":"quantitative","axis":null},"y":{"datum":0.97,"type":"quantitative","scale":{"domain":[0,1],"nice":false,"zero":false},"axis":null},"text":{"value":"(d)"}}},
  {"data":{"name":"lab"},"transform":[{"filter":"datum.r=='d'"}],"mark":{"type":"text","align":"left","baseline":"middle","fontSize":14.5},"encoding":{"x":{"datum":-100.85,"type":"quantitative","axis":null},"y":{"field":"n","type":"quantitative","scale":{"domain":[-0.658,2.737],"reverse":true,"nice":false,"zero":false},"axis":null},"text":{"field":"s"}}},
  {"data":{"values":[{}]},"mark":{"type":"rule","color":"#555","strokeWidth":1.3},"encoding":{"x":{"datum":-107.5,"type":"quantitative","axis":null},"x2":{"datum":-8.3},"y":{"datum":-0.031,"type":"quantitative","scale":{"domain":[0,1],"nice":false,"zero":false},"axis":null}}}
 ],"resolve":{"axis":{"x":"independent","y":"independent"},"scale":{"y":"independent"}}},
 {"width":322,"height":64.5,"data":{"name":"e"},"layer":[
  {"mark":{"type":"line","interpolate":"monotone","clip":true},"encoding":{"x":{"field":"t","type":"quantitative","scale":{"domain":[0,322],"nice":false,"zero":false},"axis":{"orient":"bottom","title":null,"values":[32.2,64.4,96.6,128.8,161,193.2,225.4,257.6,289.8]}},"y":{"field":"v","type":"quantitative","scale":{"domain":[0,1],"nice":false,"zero":false},"axis":{"orient":"left","title":null,"values":[0.26,0.51]}}}},
  {"transform":[{"filter":"datum.k"}],"mark":{"type":"point","shape":"circle","filled":false,"color":"black","size":34,"strokeWidth":1.1},"encoding":{"x":{"field":"t","type":"quantitative","axis":{"orient":"top","title":null,"values":[32.2,64.4,96.6,128.8,161,193.2,225.4,257.6,289.8]}},"y":{"field":"v","type":"quantitative","scale":{"domain":[0,1],"nice":false,"zero":false},"axis":{"orient":"right","title":null,"values":[0.26,0.51]}}}},
  {"transform":[{"filter":"datum.k"}],"mark":{"type":"point","shape":"circle","filled":true,"color":"#1414ff","size":5},"encoding":{"x":{"field":"t","type":"quantitative","axis":null},"y":{"field":"v","type":"quantitative","scale":{"domain":[0,1],"nice":false,"zero":false},"axis":null}}},
  {"data":{"values":[{}]},"mark":{"type":"text","align":"left","baseline":"top","fontSize":12},"encoding":{"x":{"datum":1.5,"type":"quantitative","axis":null},"y":{"datum":0.97,"type":"quantitative","scale":{"domain":[0,1],"nice":false,"zero":false},"axis":null},"text":{"value":"(e)"}}},
  {"data":{"name":"lab"},"transform":[{"filter":"datum.r=='e'"}],"mark":{"type":"text","align":"left","baseline":"middle","fontSize":14.5},"encoding":{"x":{"datum":-100.65,"type":"quantitative","axis":null},"y":{"field":"n","type":"quantitative","scale":{"domain":[-0.658,2.737],"reverse":true,"nice":false,"zero":false},"axis":null},"text":{"field":"s"}}},
  {"data":{"values":[{}]},"mark":{"type":"rule","color":"#555","strokeWidth":1.3},"encoding":{"x":{"datum":-107.3,"type":"quantitative","axis":null},"x2":{"datum":-8.3},"y":{"datum":-0.031,"type":"quantitative","scale":{"domain":[0,1],"nice":false,"zero":false},"axis":null}}}
 ],"resolve":{"axis":{"x":"independent","y":"independent"},"scale":{"y":"independent"}}}
]},
{"spacing":5.3,"bounds":"flush","vconcat":[
 {"width":322,"height":64.5,"data":{"name":"f"},"layer":[
  {"mark":{"type":"line","interpolate":"monotone","clip":true},"encoding":{"x":{"field":"t","type":"quantitative","scale":{"domain":[0,322],"nice":false,"zero":false},"axis":{"orient":"bottom","title":null,"values":[32.2,64.4,96.6,128.8,161,193.2,225.4,257.6,289.8]}},"y":{"field":"v","type":"quantitative","scale":{"domain":[0,1],"nice":false,"zero":false},"axis":{"orient":"left","title":null,"values":[0.53]}}}},
  {"transform":[{"filter":"datum.k"}],"mark":{"type":"point","shape":"circle","filled":false,"color":"black","size":34,"strokeWidth":1.1},"encoding":{"x":{"field":"t","type":"quantitative","axis":{"orient":"top","title":null,"values":[32.2,64.4,96.6,128.8,161,193.2,225.4,257.6,289.8]}},"y":{"field":"v","type":"quantitative","scale":{"domain":[0,1],"nice":false,"zero":false},"axis":{"orient":"right","title":null,"values":[0.53]}}}},
  {"transform":[{"filter":"datum.k"}],"mark":{"type":"point","shape":"circle","filled":true,"color":"#1414ff","size":5},"encoding":{"x":{"field":"t","type":"quantitative","axis":null},"y":{"field":"v","type":"quantitative","scale":{"domain":[0,1],"nice":false,"zero":false},"axis":null}}},
  {"data":{"values":[{}]},"mark":{"type":"text","align":"left","baseline":"top","fontSize":12},"encoding":{"x":{"datum":1.5,"type":"quantitative","axis":null},"y":{"datum":0.97,"type":"quantitative","scale":{"domain":[0,1],"nice":false,"zero":false},"axis":null},"text":{"value":"(f)"}}},
  {"data":{"name":"lab"},"transform":[{"filter":"datum.r=='f'"}],"mark":{"type":"text","align":"left","baseline":"middle","fontSize":14.5},"encoding":{"x":{"datum":-100.3,"type":"quantitative","axis":null},"y":{"field":"n","type":"quantitative","scale":{"domain":[-0.658,2.737],"reverse":true,"nice":false,"zero":false},"axis":null},"text":{"field":"s"}}},
  {"data":{"values":[{}]},"mark":{"type":"rule","color":"#555","strokeWidth":1.3},"encoding":{"x":{"datum":-109.3,"type":"quantitative","axis":null},"x2":{"datum":-10.3},"y":{"datum":-0.031,"type":"quantitative","scale":{"domain":[0,1],"nice":false,"zero":false},"axis":null}}}
 ],"resolve":{"axis":{"x":"independent","y":"independent"},"scale":{"y":"independent"}}},
 {"width":322,"height":64.5,"data":{"name":"g"},"layer":[
  {"mark":{"type":"line","interpolate":"monotone","clip":true},"encoding":{"x":{"field":"t","type":"quantitative","scale":{"domain":[0,322],"nice":false,"zero":false},"axis":{"orient":"bottom","title":null,"values":[32.2,64.4,96.6,128.8,161,193.2,225.4,257.6,289.8]}},"y":{"field":"v","type":"quantitative","scale":{"domain":[0,1],"nice":false,"zero":false},"axis":{"orient":"left","title":null,"values":[0.26,0.51,0.76]}}}},
  {"transform":[{"filter":"datum.k"}],"mark":{"type":"point","shape":"circle","filled":false,"color":"black","size":34,"strokeWidth":1.1},"encoding":{"x":{"field":"t","type":"quantitative","axis":{"orient":"top","title":null,"values":[32.2,64.4,96.6,128.8,161,193.2,225.4,257.6,289.8]}},"y":{"field":"v","type":"quantitative","scale":{"domain":[0,1],"nice":false,"zero":false},"axis":{"orient":"right","title":null,"values":[0.26,0.51,0.76]}}}},
  {"transform":[{"filter":"datum.k"}],"mark":{"type":"point","shape":"circle","filled":true,"color":"#1414ff","size":5},"encoding":{"x":{"field":"t","type":"quantitative","axis":null},"y":{"field":"v","type":"quantitative","scale":{"domain":[0,1],"nice":false,"zero":false},"axis":null}}},
  {"data":{"values":[{}]},"mark":{"type":"text","align":"left","baseline":"top","fontSize":12},"encoding":{"x":{"datum":1.5,"type":"quantitative","axis":null},"y":{"datum":0.97,"type":"quantitative","scale":{"domain":[0,1],"nice":false,"zero":false},"axis":null},"text":{"value":"(g)"}}},
  {"data":{"name":"lab"},"transform":[{"filter":"datum.r=='g'"}],"mark":{"type":"text","align":"left","baseline":"middle","fontSize":14.5},"encoding":{"x":{"datum":-100.3,"type":"quantitative","axis":null},"y":{"field":"n","type":"quantitative","scale":{"domain":[-0.658,2.737],"reverse":true,"nice":false,"zero":false},"axis":null},"text":{"field":"s"}}},
  {"data":{"values":[{}]},"mark":{"type":"rule","color":"#555","strokeWidth":1.3},"encoding":{"x":{"datum":-109.3,"type":"quantitative","axis":null},"x2":{"datum":-10.3},"y":{"datum":-0.031,"type":"quantitative","scale":{"domain":[0,1],"nice":false,"zero":false},"axis":null}}}
 ],"resolve":{"axis":{"x":"independent","y":"independent"},"scale":{"y":"independent"}}},
 {"width":322,"height":64.5,"data":{"name":"h"},"layer":[
  {"mark":{"type":"line","interpolate":"monotone","clip":true},"encoding":{"x":{"field":"t","type":"quantitative","scale":{"domain":[0,322],"nice":false,"zero":false},"axis":{"orient":"bottom","title":null,"values":[32.2,64.4,96.6,128.8,161,193.2,225.4,257.6,289.8]}},"y":{"field":"v","type":"quantitative","scale":{"domain":[0,1],"nice":false,"zero":false},"axis":{"orient":"left","title":null,"values":[0.26,0.51,0.76]}}}},
  {"transform":[{"filter":"datum.k"}],"mark":{"type":"point","shape":"circle","filled":false,"color":"black","size":34,"strokeWidth":1.1},"encoding":{"x":{"field":"t","type":"quantitative","axis":{"orient":"top","title":null,"values":[32.2,64.4,96.6,128.8,161,193.2,225.4,257.6,289.8]}},"y":{"field":"v","type":"quantitative","scale":{"domain":[0,1],"nice":false,"zero":false},"axis":{"orient":"right","title":null,"values":[0.26,0.51,0.76]}}}},
  {"transform":[{"filter":"datum.k"}],"mark":{"type":"point","shape":"circle","filled":true,"color":"#1414ff","size":5},"encoding":{"x":{"field":"t","type":"quantitative","axis":null},"y":{"field":"v","type":"quantitative","scale":{"domain":[0,1],"nice":false,"zero":false},"axis":null}}},
  {"data":{"name":"ann"},"mark":{"type":"text","align":"center","baseline":"middle","fontSize":14.5},"encoding":{"x":{"field":"t","type":"quantitative","axis":null},"y":{"field":"v","type":"quantitative","scale":{"domain":[0,1],"nice":false,"zero":false},"axis":null},"text":{"field":"s"}}},
  {"data":{"values":[{}]},"mark":{"type":"text","align":"left","baseline":"top","fontSize":12},"encoding":{"x":{"datum":1.5,"type":"quantitative","axis":null},"y":{"datum":0.985,"type":"quantitative","scale":{"domain":[0,1],"nice":false,"zero":false},"axis":null},"text":{"value":"(h)"}}},
  {"data":{"name":"lab"},"transform":[{"filter":"datum.r=='h'"}],"mark":{"type":"text","align":"left","baseline":"middle","fontSize":14.5},"encoding":{"x":{"datum":-100.3,"type":"quantitative","axis":null},"y":{"field":"n","type":"quantitative","scale":{"domain":[-0.658,2.737],"reverse":true,"nice":false,"zero":false},"axis":null},"text":{"field":"s"}}},
  {"data":{"values":[{}]},"mark":{"type":"rule","color":"#555","strokeWidth":1.3},"encoding":{"x":{"datum":-109.3,"type":"quantitative","axis":null},"x2":{"datum":-10.3},"y":{"datum":-0.031,"type":"quantitative","scale":{"domain":[0,1],"nice":false,"zero":false},"axis":null}}}
 ],"resolve":{"axis":{"x":"independent","y":"independent"},"scale":{"y":"independent"}}},
 {"width":322,"height":64.5,"data":{"name":"i"},"layer":[
  {"transform":[{"filter":"datum.c!='b'"}],"mark":{"type":"line","interpolate":"monotone","clip":true},"encoding":{"x":{"field":"t","type":"quantitative","scale":{"domain":[0,322],"nice":false,"zero":false},"axis":{"orient":"bottom","title":null,"values":[32.2,64.4,96.6,128.8,161,193.2,225.4,257.6,289.8]}},"y":{"field":"v","type":"quantitative","scale":{"domain":[0,1],"nice":false,"zero":false},"axis":{"orient":"left","title":null,"values":[0.26,0.51,0.76]}},"color":{"field":"c","type":"nominal","scale":{"domain":["o","g","r","b"],"range":["#f0961e","#16a016","#ff1a1a","#1414ff"]},"legend":null}}},
  {"transform":[{"filter":"datum.c=='b'"}],"mark":{"type":"line","interpolate":"monotone","clip":true,"color":"#1414ff","strokeWidth":1.5},"encoding":{"x":{"field":"t","type":"quantitative","axis":null},"y":{"field":"v","type":"quantitative","scale":{"domain":[0,1],"nice":false,"zero":false},"axis":null}}},
  {"transform":[{"filter":"datum.k"}],"mark":{"type":"point","shape":"circle","filled":false,"color":"black","size":34,"strokeWidth":1.1},"encoding":{"x":{"field":"t","type":"quantitative","axis":{"orient":"top","title":null,"values":[32.2,64.4,96.6,128.8,161,193.2,225.4,257.6,289.8]}},"y":{"field":"v","type":"quantitative","scale":{"domain":[0,1],"nice":false,"zero":false},"axis":{"orient":"right","title":null,"values":[0.26,0.51,0.76]}}}},
  {"transform":[{"filter":"datum.k"}],"mark":{"type":"point","shape":"circle","filled":true,"size":5},"encoding":{"x":{"field":"t","type":"quantitative","axis":null},"y":{"field":"v","type":"quantitative","scale":{"domain":[0,1],"nice":false,"zero":false},"axis":null},"color":{"field":"c","type":"nominal","legend":null}}},
  {"data":{"values":[{}]},"mark":{"type":"text","align":"left","baseline":"top","fontSize":12},"encoding":{"x":{"datum":1.5,"type":"quantitative","axis":null},"y":{"datum":0.97,"type":"quantitative","scale":{"domain":[0,1],"nice":false,"zero":false},"axis":null},"text":{"value":"(i)"}}},
  {"data":{"name":"lab"},"transform":[{"filter":"datum.r=='i'"}],"mark":{"type":"text","align":"left","baseline":"middle","fontSize":14.5},"encoding":{"x":{"datum":-100.3,"type":"quantitative","axis":null},"y":{"field":"n","type":"quantitative","scale":{"domain":[-1.15,2.075],"reverse":true,"nice":false,"zero":false},"axis":null},"text":{"field":"s"}}},
  {"data":{"values":[{}]},"mark":{"type":"rule","color":"#555","strokeWidth":1.3},"encoding":{"x":{"datum":-109.3,"type":"quantitative","axis":null},"x2":{"datum":-10.3},"y":{"datum":-0.031,"type":"quantitative","scale":{"domain":[0,1],"nice":false,"zero":false},"axis":null}}}
 ],"resolve":{"axis":{"x":"independent","y":"independent"},"scale":{"y":"independent"}}},
 {"width":322,"height":64.5,"data":{"name":"j"},"layer":[
  {"mark":{"type":"line","interpolate":"linear","clip":true},"encoding":{"x":{"field":"t","type":"quantitative","scale":{"domain":[0,322],"nice":false,"zero":false},"axis":{"orient":"bottom","title":null,"values":[32.2,64.4,96.6,128.8,161,193.2,225.4,257.6,289.8]}},"y":{"field":"v","type":"quantitative","scale":{"domain":[0,1],"nice":false,"zero":false},"axis":{"orient":"left","title":null,"values":[0.35,0.66]}}}},
  {"transform":[{"filter":"datum.k"}],"mark":{"type":"point","shape":"circle","filled":false,"color":"black","size":34,"strokeWidth":1.1},"encoding":{"x":{"field":"t","type":"quantitative","axis":{"orient":"top","title":null,"values":[32.2,64.4,96.6,128.8,161,193.2,225.4,257.6,289.8]}},"y":{"field":"v","type":"quantitative","scale":{"domain":[0,1],"nice":false,"zero":false},"axis":{"orient":"right","title":null,"values":[0.35,0.66]}}}},
  {"transform":[{"filter":"datum.k"}],"mark":{"type":"point","shape":"circle","filled":true,"color":"#1414ff","size":5},"encoding":{"x":{"field":"t","type":"quantitative","axis":null},"y":{"field":"v","type":"quantitative","scale":{"domain":[0,1],"nice":false,"zero":false},"axis":null}}},
  {"data":{"values":[{}]},"mark":{"type":"text","align":"left","baseline":"top","fontSize":12},"encoding":{"x":{"datum":1.5,"type":"quantitative","axis":null},"y":{"datum":0.97,"type":"quantitative","scale":{"domain":[0,1],"nice":false,"zero":false},"axis":null},"text":{"value":"(j)"}}},
  {"data":{"name":"lab"},"transform":[{"filter":"datum.r=='j'"}],"mark":{"type":"text","align":"left","baseline":"middle","fontSize":14.5},"encoding":{"x":{"datum":-100.3,"type":"quantitative","axis":null},"y":{"field":"n","type":"quantitative","scale":{"domain":[-0.658,2.737],"reverse":true,"nice":false,"zero":false},"axis":null},"text":{"field":"s"}}},
  {"data":{"values":[{}]},"mark":{"type":"rule","color":"#555","strokeWidth":1.3},"encoding":{"x":{"datum":-109.3,"type":"quantitative","axis":null},"x2":{"datum":-10.3},"y":{"datum":-0.031,"type":"quantitative","scale":{"domain":[0,1],"nice":false,"zero":false},"axis":null}}}
 ],"resolve":{"axis":{"x":"independent","y":"independent"},"scale":{"y":"independent"}}}
]}
]
}
